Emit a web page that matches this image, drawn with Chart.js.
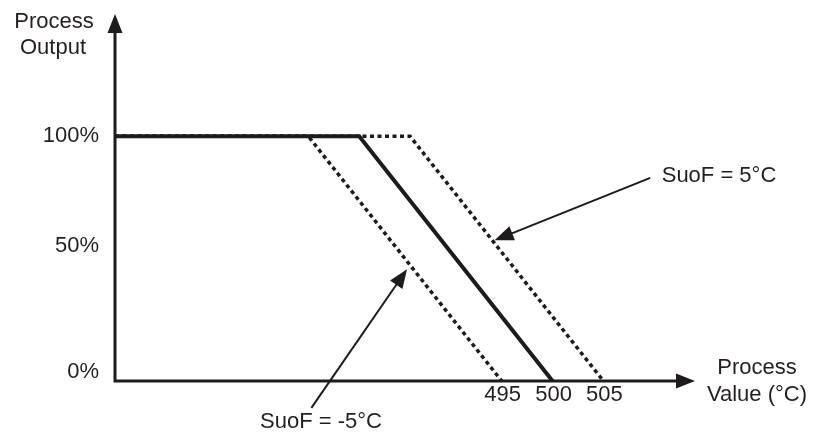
<!DOCTYPE html>
<html>
<head>
<meta charset="utf-8">
<script src="https://cdn.jsdelivr.net/npm/chart.js@4/dist/chart.umd.min.js"></script>
<style>
  html, body { margin: 0; padding: 0; background: #fff; }
  #wrap { width: 815px; height: 434px; position: relative; }
</style>
</head>
<body>
<div id="wrap"><canvas id="chart"></canvas></div>
<script>
// process output vs process value, three curves
const nominalX = [457, 481, 500];
const nominalY = [100, 100, 0];
const minusX = [457, 476, 495];
const minusY = [100, 100, 0];
const plusX = [457, 486, 505];
const plusY = [100, 100, 0];

const xTicks = [495, 500, 505];
const yTicks = [0, 50, 100];
const yTickLabels = ["0%", "50%", "100%"];

const INK = "#1d1b1b";
const FONT = '22px "Liberation Sans", Arial, sans-serif';

function pts(xs, ys) {
  return xs.map((x, i) => ({ x: x, y: ys[i] }));
}

// annotation arrows: tip and tail in data units
const notes = [
  { text: "SuoF = 5°C", tip: [494.3, 57.5], tail: [509.6, 83], tx: 719, ty: 176 },
  { text: "SuoF = -5°C", tip: [485.7, 45.7], tail: [476.3, -11], tx: 321, ty: 422 },
];

function arrowHead(ctx, x1, y1, x2, y2, len, half) {
  const a = Math.atan2(y2 - y1, x2 - x1);
  ctx.beginPath();
  ctx.moveTo(x2, y2);
  ctx.lineTo(x2 - len * Math.cos(a) + half * Math.sin(a), y2 - len * Math.sin(a) - half * Math.cos(a));
  ctx.lineTo(x2 - len * Math.cos(a) - half * Math.sin(a), y2 - len * Math.sin(a) + half * Math.cos(a));
  ctx.closePath();
  ctx.fill();
}

const decor = {
  id: "decor",
  afterDatasetsDraw(chart) {
    const ctx = chart.ctx;
    const xs = chart.scales.x;
    const ys = chart.scales.y;
    const area = chart.chartArea;
    const ox = area.left;
    const oy = ys.getPixelForValue(0);
    ctx.save();
    ctx.strokeStyle = INK;
    ctx.fillStyle = INK;

    // axes
    ctx.lineWidth = 3;
    ctx.beginPath();
    ctx.moveTo(ox, oy + 1.5);
    ctx.lineTo(ox, area.top + 14);
    ctx.moveTo(ox - 1.5, oy);
    ctx.lineTo(area.right - 14, oy);
    ctx.stroke();
    arrowHead(ctx, ox, oy, ox, area.top, 19, 7.5);
    arrowHead(ctx, ox, oy, area.right, oy, 19, 7.5);

    // tick labels
    ctx.font = FONT;
    ctx.fillStyle = "#231f20";
    ctx.textBaseline = "middle";
    ctx.textAlign = "center";
    xTicks.forEach((v) => {
      ctx.fillText(String(v), xs.getPixelForValue(v) + 1, oy + 14);
    });
    const nudge = [-9, -13, 0];
    ctx.textAlign = "right";
    yTicks.forEach((v, i) => {
      ctx.fillText(yTickLabels[i], ox - 16, ys.getPixelForValue(v) + nudge[i]);
    });

    // axis titles
    ctx.textAlign = "center";
    ctx.fillText("Process", 54, 22);
    ctx.fillText("Output", 53, 48);
    ctx.fillText("Process", 757, 368);
    ctx.fillText("Value (°C)", 757, 395);

    // annotations
    notes.forEach((n) => {
      const x1 = xs.getPixelForValue(n.tail[0]);
      const y1 = ys.getPixelForValue(n.tail[1]);
      const x2 = xs.getPixelForValue(n.tip[0]);
      const y2 = ys.getPixelForValue(n.tip[1]);
      const a = Math.atan2(y2 - y1, x2 - x1);
      ctx.strokeStyle = INK;
      ctx.fillStyle = INK;
      ctx.lineWidth = 2;
      ctx.beginPath();
      ctx.moveTo(x1, y1);
      ctx.lineTo(x2 - 14 * Math.cos(a), y2 - 14 * Math.sin(a));
      ctx.stroke();
      arrowHead(ctx, x1, y1, x2, y2, 19, 7.5);
      ctx.fillStyle = "#231f20";
      ctx.textAlign = "center";
      ctx.fillText(n.text, n.tx, n.ty);
    });
    ctx.restore();
  },
};

new Chart(document.getElementById("chart"), {
  type: "line",
  data: {
    datasets: [
      {
        label: "SuoF = 0",
        data: pts(nominalX, nominalY),
        borderColor: INK,
        borderWidth: 4,
        pointRadius: 0,
        tension: 0,
        order: 0,
      },
      {
        label: "SuoF = -5°C",
        data: pts(minusX, minusY),
        borderColor: INK,
        borderWidth: 3.5,
        borderDash: [4, 3.5],
        pointRadius: 0,
        tension: 0,
        order: 1,
      },
      {
        label: "SuoF = 5°C",
        data: pts(plusX, plusY),
        borderColor: INK,
        borderWidth: 3.5,
        borderDash: [4, 3.5],
        pointRadius: 0,
        tension: 0,
        order: 2,
      },
    ],
  },
  options: {
    responsive: true,
    maintainAspectRatio: false,
    animation: false,
    layout: { padding: { left: 115, right: 120, top: 14, bottom: 53 } },
    plugins: {
      legend: { display: false },
      tooltip: { enabled: false },
    },
    scales: {
      x: { type: "linear", min: 457, max: 514, display: false },
      y: { type: "linear", min: 0, max: 150, display: false },
    },
  },
  plugins: [decor],
});
</script>
</body>
</html>
